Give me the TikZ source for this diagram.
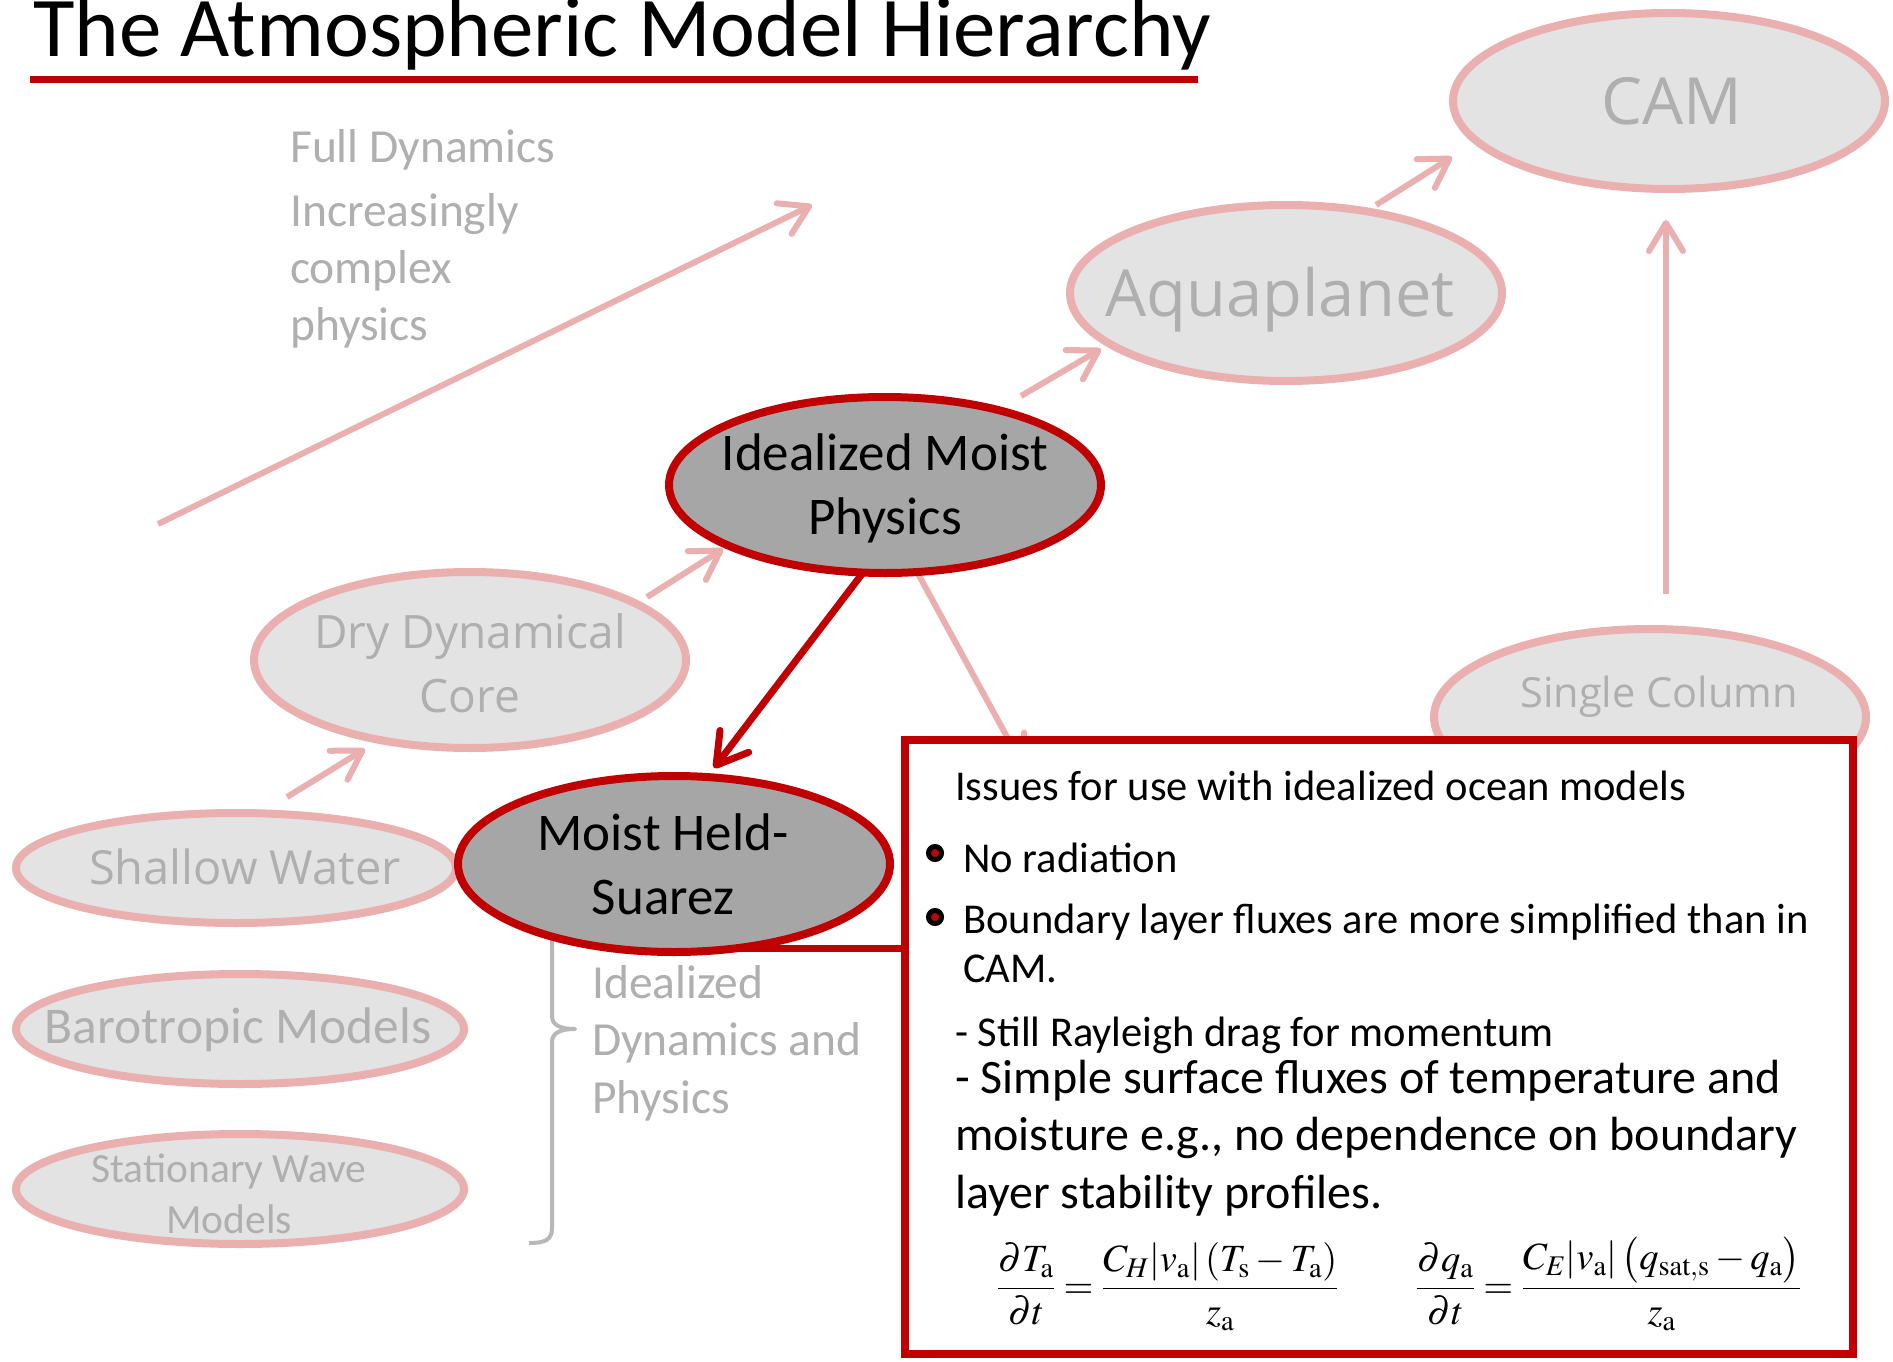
\documentclass[tikz,border=0pt]{standalone}
\usepackage{mathptmx}
\usepackage[no-math]{fontspec}
\setmainfont{Carlito}
\newfontfamily\widesans{Open Sans}
\usetikzlibrary{shapes.geometric,arrows.meta,calc}

\definecolor{hred}{RGB}{192,0,0}
\definecolor{pinkline}{RGB}{234,176,176}
\definecolor{lightfill}{RGB}{227,227,227}
\definecolor{darkfill}{RGB}{166,166,166}
\definecolor{fadetext}{RGB}{175,175,175}
\definecolor{bracegray}{RGB}{184,184,184}

\newcommand\fs[2]{\fontsize{#1}{#2}\selectfont}
\newcommand\clines[1]{\begin{tabular}[t]{@{}c@{}}#1\end{tabular}}
\newcommand\llines[1]{\begin{tabular}[t]{@{}l@{}}#1\end{tabular}}

\begin{document}
\begin{tikzpicture}[x=1pt,y=-1pt,
  faded/.style={ellipse, draw=pinkline, fill=lightfill, line width=8pt,
    minimum width=432pt, minimum height=176pt, inner sep=0pt},
  flat/.style={faded, minimum width=440pt, minimum height=110pt},
  active/.style={ellipse, draw=hred, fill=darkfill, line width=8pt,
    minimum width=432pt, minimum height=176pt, inner sep=0pt},
  fadetxt/.style={text=fadetext, inner sep=0pt},
  darktxt/.style={text=black, inner sep=0pt},
  pinkarrow/.style={draw=pinkline, line width=6pt,
    -{Straight Barb[length=28pt,width=34pt,round]}},
  redarrow/.style={draw=hred, line width=7pt,
    -{Straight Barb[length=30pt,width=36pt,round]}},
  bulletdot/.style={circle, draw=black, fill=hred, line width=5pt,
    minimum size=13pt, inner sep=0pt},
  boxtxt/.style={darktxt, anchor=base west},
]
\useasboundingbox (0,0) rectangle (1893,1362);
\fill[white] (0,0) rectangle (1893,1362);

% title
\node[darktxt, anchor=base west, font=\fs{85}{100}] (title) at (33,57)
  {The Atmospheric Model Hierarchy};
\draw[hred, line width=7pt] (30,80) coordinate (ul-a) -- (1198,80) coordinate (ul-b);

% complexity trend arrow
\coordinate (trend-tail) at (158,524);
\coordinate (trend-head) at (812,205);
\draw[pinkarrow] (trend-tail) -- (trend-head);
\node[fadetxt, anchor=base west, font=\fs{47.5}{57}] (fulldyn) at (290,163) {Full Dynamics};
\node[fadetxt, anchor=base west, font=\fs{47.5}{57}] (complexity) at (290,226)
  {\llines{Increasingly\\complex\\physics}};

% brace grouping the idealized models
\draw[bracegray, line width=4pt, line join=round]
  (529,812) .. controls (545,812) and (552,816) .. (552,830)
  -- (552,1016) .. controls (552,1025) and (560,1029) .. (575,1029)
  .. controls (560,1029) and (552,1033) .. (552,1042)
  -- (552,1228) .. controls (552,1240) and (545,1243) .. (529,1243);
\node[fadetxt, anchor=base west, font=\fs{47.5}{57.5}] (idealtext) at (592,998)
  {\llines{Idealized\\Dynamics and\\Physics}};

% link from Moist Held-Suarez to the notes box
\coordinate (mhsfoot) at (730,948);
\coordinate (boxedge) at (905,948);
\draw[hred, line width=7pt] (mhsfoot) -- (boxedge);

% arrow running under the notes box
\coordinate (imp-low) at (916,570);
\coordinate (under-box) at (1024,768);
\draw[pinkarrow] (imp-low) -- (under-box);

% model ellipses
\node[faded] (cam) at (1669,101) {};
\node[faded] (aqua) at (1286,293) {};
\node[faded] (single) at (1650,717) {};
\node[faded] (dry) at (470,660) {};
\node[flat] (shallow) at (236,868) {};
\node[flat, minimum width=448pt] (baro) at (240,1029) {};
\node[flat, minimum width=448pt] (stat) at (240,1189) {};
\node[active] (imp) at (885,485) {};
\node[active] (mhs) at (674,864) {};

\node[fadetxt, anchor=base, font=\widesans\fs{65}{78}] (camtext) at (1672,125) {CAM};
\node[fadetxt, anchor=base, font=\widesans\fs{65}{78}] (aquatext) at (1280,316) {Aquaplanet};
\node[fadetxt, anchor=base, font=\widesans\fs{46}{64}] (drytext) at (470,648)
  {\clines{Dry Dynamical\\Core}};
\node[fadetxt, anchor=base, font=\widesans\fs{41.5}{50}] (singletext) at (1659,707) {Single Column};
\node[fadetxt, anchor=base, font=\widesans\fs{47}{56}] (shallowtext) at (245,884) {Shallow Water};
\node[fadetxt, anchor=base, font=\fs{51.5}{60}] (barotext) at (238,1043) {Barotropic Models};
\node[fadetxt, anchor=base, font=\fs{41.5}{51}] (stattext) at (229,1182)
  {\clines{Stationary Wave\\Models}};
\node[darktxt, anchor=base, font=\fs{53}{64}] (imptext) at (885,470)
  {\clines{Idealized Moist\\Physics}};
\node[darktxt, anchor=base, font=\fs{53}{64}] (mhstext) at (663,850)
  {\clines{Moist Held-\\Suarez}};

% hierarchy arrows
\coordinate (sw-up) at (287,797);   \coordinate (dry-in) at (365,749);
\coordinate (dry-up) at (647,597);  \coordinate (imp-in) at (723,549);
\coordinate (imp-up) at (1021,396); \coordinate (aqua-in) at (1101,349);
\coordinate (aqua-up) at (1376,205); \coordinate (cam-in) at (1452,157);
\coordinate (sc-up) at (1666,594);  \coordinate (cam-below) at (1666,220);
\draw[pinkarrow] (sw-up) -- (dry-in);
\draw[pinkarrow] (dry-up) -- (imp-in);
\draw[pinkarrow] (imp-up) -- (aqua-in);
\draw[pinkarrow] (aqua-up) -- (cam-in);
\draw[pinkarrow] (sc-up) -- (cam-below);

\coordinate (imp-down) at (862,574);
\coordinate (mhs-in) at (714,768);
\draw[redarrow] (imp-down) -- (mhs-in);

% notes box
\node[rectangle, draw=hred, fill=white, line width=8pt, minimum width=948pt,
  minimum height=614pt, inner sep=0pt] (issues) at (1379,1047) {};

\node[boxtxt, font=\fs{42.5}{50}] (issues-head) at (955,800)
  {Issues for use with idealized ocean models};
\node[bulletdot] (dot1) at (935,853) {};
\node[boxtxt, font=\fs{42.5}{50}] (item1) at (963,872) {No radiation};
\node[bulletdot] (dot2) at (935,917) {};
\node[boxtxt, font=\fs{42.5}{49}] (item2) at (963,933)
  {\llines{Boundary layer fluxes are more simplified than in\\CAM.}};
\node[boxtxt, font=\fs{42.5}{50}] (note1) at (955,1046) {- Still Rayleigh drag for momentum};
\node[boxtxt, font=\fs{48}{57.5}] (note2) at (955,1093)
  {\llines{- Simple surface fluxes of temperature and\\moisture e.g., no dependence on boundary\\layer stability profiles.}};

\node[boxtxt, font=\fs{38.5}{46}] (eqT) at (997,1298)
  {$\displaystyle\frac{\partial T_{\mathrm{a}}}{\partial t}=\frac{C_H|v_{\mathrm{a}}|\,(T_{\mathrm{s}}-T_{\mathrm{a}})}{z_{\mathrm{a}}}$};
\node[boxtxt, font=\fs{38.5}{46}] (eqq) at (1416,1298)
  {$\displaystyle\frac{\partial q_{\mathrm{a}}}{\partial t}=\frac{C_E|v_{\mathrm{a}}|\,\bigl(q_{\mathrm{sat,s}}-q_{\mathrm{a}}\bigr)}{z_{\mathrm{a}}}$};
\end{tikzpicture}
\end{document}
